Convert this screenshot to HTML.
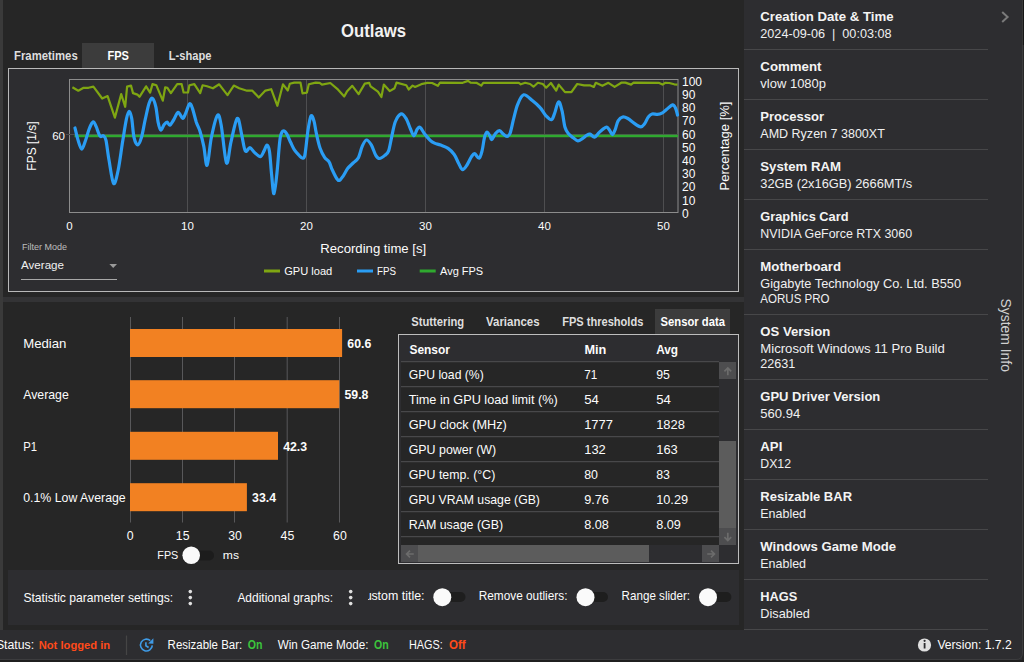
<!DOCTYPE html>
<html><head><meta charset="utf-8"><style>
html,body{margin:0;padding:0;background:#262626;width:1024px;height:662px;overflow:hidden}
svg{position:absolute;left:0;top:0;font-family:"Liberation Sans", sans-serif}
</style></head><body>
<svg width="1024" height="662" viewBox="0 0 1024 662" xml:space="preserve">
<defs><clipPath id="ctitle"><rect x="367.9" y="580" width="100" height="30"/></clipPath></defs>
<rect x="0" y="0" width="1024" height="662" fill="#262626"/>
<rect x="0" y="0" width="3" height="630" fill="#3a3a3a"/>

<text x="341" y="36.6" font-weight="bold" font-size="17.8" fill="#f2f2f2" textLength="65" lengthAdjust="spacingAndGlyphs">Outlaws</text>
<rect x="82" y="43" width="72" height="25" fill="#3c3c3c"/>
<text x="14" y="60.0" font-size="12" font-weight="bold" fill="#dedede" textLength="63.7" lengthAdjust="spacingAndGlyphs">Frametimes</text>
<text x="107.5" y="60.0" font-size="12" font-weight="bold" fill="#ffffff" textLength="21.5" lengthAdjust="spacingAndGlyphs">FPS</text>
<text x="168.75" y="60.0" font-size="12" font-weight="bold" fill="#dedede" textLength="42.65" lengthAdjust="spacingAndGlyphs">L-shape</text>
<rect x="8.5" y="68.5" width="730" height="223" fill="#2d2d30" stroke="#b9b9b9" stroke-width="1"/>
<rect x="69.5" y="79.5" width="608.5" height="133" fill="none" stroke="#8c8c8c" stroke-width="1"/>
<line x1="187.5" y1="80" x2="187.5" y2="212" stroke="#4e4e50" stroke-width="1"/>
<line x1="306.5" y1="80" x2="306.5" y2="212" stroke="#4e4e50" stroke-width="1"/>
<line x1="425.5" y1="80" x2="425.5" y2="212" stroke="#4e4e50" stroke-width="1"/>
<line x1="544.5" y1="80" x2="544.5" y2="212" stroke="#4e4e50" stroke-width="1"/>
<line x1="663.5" y1="80" x2="663.5" y2="212" stroke="#4e4e50" stroke-width="1"/>
<line x1="66" y1="134.5" x2="678" y2="134.5" stroke="#4e4e50" stroke-width="1"/>
<path d="M72.4,87.3 L78.3,90.7 L83.6,87.8 L88.5,87.8 L93.4,86.6 L102.2,98.5 L107.6,96.1 L114.9,117.6 L121.2,94.1 L125.2,106.8 L127.1,86.6 L131.0,85.6 L133.0,93.1 L137.4,94.6 L139.5,96.8 L146.1,86.3 L150.1,92.6 L152.5,84.1 L156.4,85.3 L162.8,100.7 L165.2,87.3 L167.4,87.8 L170.9,93.1 L177.2,84.1 L181.6,84.1 L183.6,92.5 L188.0,92.5 L189.4,85.3 L194.3,84.1 L200.2,93.1 L202.6,85.3 L207.0,86.3 L212.9,88.3 L219.2,84.3 L227.5,95.1 L233.8,85.6 L239.2,88.3 L247.0,90.7 L252.4,90.7 L258.8,97.5 L265.4,90.6 L271.2,89.2 L277.4,105.8 L283.0,84.3 L287.8,90.5 L289.8,83.8 L294.2,82.6 L300.5,82.6 L302.5,93.4 L306.9,92.6 L308.8,84.3 L315.7,82.6 L319.6,82.8 L322.0,84.6 L330.3,83.0 L338.1,89.7 L344.2,96.5 L346.9,91.6 L352.3,85.8 L358.6,94.1 L364.8,83.6 L369.2,82.8 L370.6,86.3 L377.9,91.6 L381.4,97.0 L383.8,84.6 L389.7,91.1 L394.6,88.2 L396.5,82.6 L406.3,85.3 L408.7,89.5 L412.6,85.6 L415.1,87.0 L422.4,83.8 L427.3,82.8 L432.1,83.0 L437.8,85.8 L440.0,82.6 L462.7,82.8 L468.1,80.9 L470.5,82.6 L476.4,82.8 L481.3,85.6 L483.2,82.8 L518.8,82.8 L520.8,84.3 L525.2,82.8 L530.1,84.0 L533.5,86.7 L537.9,82.8 L542.8,84.0 L546.2,87.7 L550.9,83.0 L556.2,90.6 L558.7,84.6 L565.0,92.1 L571.4,92.1 L577.2,84.0 L584.1,85.3 L589.9,85.3 L593.8,86.9 L595.8,82.8 L602.4,85.8 L608.4,82.8 L614.6,86.9 L621.3,82.7 L625.4,82.6 L631.1,84.6 L633.6,82.7 L658.6,82.8 L662.5,84.6 L665.4,82.8 L669.3,83.0 L674.2,84.3 L677.5,84.6" fill="none" stroke="#7fa612" stroke-width="2.2" stroke-linejoin="round"/>
<line x1="74.5" y1="136" x2="678" y2="136" stroke="#2fa92f" stroke-width="2.4"/>
<path d="M75.0,128.0 C75.5,130.1 77.0,136.8 78.1,140.3 C79.2,143.8 80.5,149.1 81.8,149.1 C83.0,149.1 84.3,143.8 85.6,140.3 C86.9,136.8 88.1,131.4 89.4,128.3 C90.7,125.2 92.1,122.2 93.2,121.9 C94.3,121.6 95.1,124.3 96.2,126.7 C97.3,129.1 98.8,134.6 100.0,136.1 C101.2,137.6 102.4,135.1 103.4,135.8 C104.4,136.5 105.1,136.3 106.0,140.3 C106.9,144.3 107.7,152.8 109.0,160.0 C110.3,167.2 112.1,181.7 113.6,183.4 C115.1,185.2 116.6,177.4 118.1,170.5 C119.6,163.6 121.2,150.4 122.6,141.8 C124.0,133.2 125.3,124.3 126.4,119.2 C127.5,114.1 128.2,111.4 129.1,111.3 C130.0,111.2 130.9,114.1 131.7,118.4 C132.5,122.7 133.0,132.9 134.0,137.3 C135.0,141.7 136.4,144.9 137.7,144.9 C138.9,144.9 140.2,141.6 141.5,137.3 C142.8,133.0 144.0,124.9 145.3,119.2 C146.6,113.5 147.9,106.8 149.1,103.3 C150.3,99.8 151.3,97.7 152.4,98.3 C153.5,98.9 155.0,103.1 155.9,107.1 C156.8,111.1 157.3,118.4 158.1,122.2 C158.9,126.0 159.8,129.7 160.8,130.1 C161.8,130.5 163.1,125.8 164.2,124.5 C165.3,123.2 166.3,122.1 167.2,122.2 C168.1,122.3 168.7,125.6 169.8,125.2 C170.9,124.8 172.2,122.1 173.6,120.0 C175.0,117.9 176.6,112.7 178.1,112.4 C179.6,112.1 181.4,118.3 182.7,118.4 C184.0,118.5 184.6,115.5 185.7,113.1 C186.8,110.7 188.4,104.5 189.5,103.8 C190.6,103.0 191.4,105.5 192.5,108.6 C193.6,111.7 195.1,118.4 196.3,122.2 C197.6,126.0 198.8,127.3 200.0,131.3 C201.2,135.3 202.6,140.7 203.8,146.4 C205.0,152.1 205.8,166.8 207.1,165.3 C208.4,163.8 209.7,145.6 211.4,137.3 C213.1,129.0 215.8,117.4 217.4,115.4 C219.0,113.4 219.7,117.3 221.2,125.2 C222.7,133.1 224.9,160.2 226.5,163.0 C228.1,165.8 229.2,149.2 231.0,141.8 C232.8,134.4 235.5,119.7 237.3,118.4 C239.1,117.2 240.3,128.9 241.6,134.3 C242.9,139.7 243.9,148.7 245.3,150.9 C246.7,153.1 248.4,147.3 249.9,147.6 C251.4,147.8 252.7,150.9 254.4,152.4 C256.1,153.9 258.8,156.9 260.4,156.6 C262.0,156.3 263.1,152.5 264.2,150.6 C265.3,148.7 266.0,144.9 266.9,145.0 C267.8,145.1 268.7,146.3 269.5,151.4 C270.3,156.5 270.9,168.4 271.7,175.5 C272.4,182.6 273.1,194.2 274.0,193.7 C274.9,193.2 276.0,181.6 277.0,172.5 C278.0,163.4 279.0,146.2 280.0,139.3 C281.0,132.4 281.9,131.9 283.0,131.0 C284.1,130.1 285.5,132.1 286.8,134.0 C288.1,135.9 289.3,139.7 290.6,142.3 C291.9,144.9 293.0,147.7 294.4,149.8 C295.8,151.9 297.5,153.7 298.9,155.1 C300.3,156.5 301.7,158.3 302.7,158.2 C303.7,158.1 304.1,159.1 305.0,154.4 C305.9,149.7 307.0,136.6 308.0,130.2 C309.0,123.8 310.0,117.4 311.0,115.9 C312.0,114.4 313.1,118.2 314.0,121.1 C314.9,124.0 315.3,128.7 316.3,133.2 C317.3,137.7 318.7,144.3 320.1,148.3 C321.5,152.3 323.1,155.1 324.6,157.4 C326.1,159.7 327.9,159.9 329.1,161.9 C330.4,163.9 330.8,166.7 332.1,169.5 C333.4,172.3 335.5,176.7 336.7,178.5 C337.9,180.3 338.4,180.8 339.5,180.4 C340.6,180.0 341.9,177.8 343.3,175.8 C344.7,173.8 346.2,170.4 347.8,168.3 C349.4,166.2 351.3,164.8 353.1,163.0 C354.9,161.2 356.9,160.5 358.4,157.7 C359.9,154.9 360.9,149.3 362.2,146.4 C363.5,143.5 364.9,140.2 366.4,140.0 C367.9,139.8 369.7,142.3 371.3,144.9 C372.9,147.5 374.4,153.1 375.8,155.4 C377.2,157.7 378.1,158.5 379.6,158.5 C381.1,158.5 383.3,156.7 384.8,155.4 C386.3,154.1 387.5,153.9 388.6,150.9 C389.7,147.9 390.5,142.2 391.6,137.3 C392.7,132.4 393.8,125.4 395.4,121.5 C397.0,117.6 399.4,114.4 401.2,113.9 C403.0,113.4 404.4,115.9 406.0,118.4 C407.6,120.9 409.2,126.1 410.5,129.0 C411.8,131.9 412.8,135.8 413.9,135.8 C415.0,135.8 416.2,130.4 417.3,129.0 C418.4,127.6 419.0,126.6 420.3,127.5 C421.6,128.4 423.2,132.2 424.9,134.3 C426.5,136.4 428.6,138.8 430.2,140.3 C431.8,141.8 432.8,142.3 434.5,143.1 C436.2,143.9 438.3,144.2 440.6,145.1 C442.9,146.0 445.8,146.8 448.1,148.4 C450.4,150.0 452.4,152.0 454.2,154.5 C456.0,157.0 457.3,161.0 458.7,163.5 C460.1,166.0 461.1,169.3 462.5,169.6 C463.9,169.8 465.5,167.2 467.0,165.0 C468.5,162.8 470.2,158.6 471.5,156.7 C472.8,154.8 473.3,153.4 474.6,153.7 C475.9,153.9 477.9,158.7 479.1,158.2 C480.4,157.7 481.2,154.1 482.1,150.7 C483.0,147.3 483.6,140.9 484.4,137.8 C485.2,134.7 486.2,132.3 487.1,132.1 C488.1,131.8 489.3,135.1 490.1,136.3 C490.9,137.5 491.0,139.9 491.9,139.4 C492.8,138.9 494.4,134.8 495.7,133.3 C497.0,131.8 498.2,130.5 499.5,130.6 C500.8,130.7 502.1,133.1 503.3,134.1 C504.6,135.1 505.9,136.4 507.0,136.3 C508.1,136.2 509.0,136.3 510.1,133.3 C511.2,130.3 512.5,123.0 513.8,118.2 C515.0,113.4 516.0,108.5 517.6,104.6 C519.2,100.7 521.2,95.4 523.7,94.8 C526.2,94.2 529.9,98.7 532.6,100.8 C535.3,102.9 537.9,105.1 540.1,107.6 C542.4,110.1 544.2,113.9 546.1,115.9 C548.0,117.9 550.0,120.1 551.4,119.7 C552.8,119.3 553.3,116.7 554.5,113.7 C555.7,110.7 557.2,102.4 558.5,101.9 C559.8,101.4 560.9,106.5 562.0,110.7 C563.1,114.9 563.9,123.4 565.0,127.3 C566.1,131.2 567.4,132.3 568.8,134.1 C570.2,135.8 571.8,136.7 573.3,137.8 C574.8,138.9 576.4,140.8 577.9,140.9 C579.4,141.0 580.9,139.6 582.4,138.6 C583.9,137.6 585.6,135.8 586.9,135.1 C588.2,134.3 588.7,133.8 590.0,134.1 C591.3,134.4 593.0,137.3 594.5,137.1 C596.0,136.8 597.6,133.9 599.0,132.6 C600.4,131.3 601.7,130.0 603.0,129.1 C604.3,128.2 605.7,126.8 606.8,127.1 C607.9,127.3 608.9,129.3 609.8,130.6 C610.7,131.9 611.5,134.8 612.4,134.7 C613.3,134.6 614.1,132.1 615.1,129.8 C616.1,127.5 616.8,122.9 618.1,120.8 C619.4,118.7 621.1,117.4 622.7,117.0 C624.3,116.6 626.0,117.5 627.9,118.5 C629.8,119.5 631.9,121.7 634.0,123.1 C636.1,124.5 639.0,126.7 640.8,126.8 C642.6,126.9 643.4,125.4 644.6,123.8 C645.9,122.2 647.0,118.6 648.3,117.0 C649.5,115.4 650.6,114.4 652.1,114.0 C653.6,113.6 655.8,114.5 657.4,114.4 C659.0,114.3 660.4,114.0 661.9,113.2 C663.4,112.4 664.7,110.9 666.5,109.5 C668.3,108.1 671.0,105.2 672.5,104.9 C674.0,104.7 674.7,106.3 675.5,108.0 C676.3,109.7 677.2,113.8 677.5,115.0" fill="none" stroke="#2a9df4" stroke-width="3.2" stroke-linejoin="round" stroke-linecap="round"/>
<text x="65" y="140" text-anchor="end" font-size="11.5" fill="#fcfcfc">60</text>
<text x="69.5" y="230" text-anchor="middle" font-size="11.5" fill="#fcfcfc">0</text>
<text x="187.5" y="230" text-anchor="middle" font-size="11.5" fill="#fcfcfc">10</text>
<text x="306.5" y="230" text-anchor="middle" font-size="11.5" fill="#fcfcfc">20</text>
<text x="425.5" y="230" text-anchor="middle" font-size="11.5" fill="#fcfcfc">30</text>
<text x="544.5" y="230" text-anchor="middle" font-size="11.5" fill="#fcfcfc">40</text>
<text x="663.5" y="230" text-anchor="middle" font-size="11.5" fill="#fcfcfc">50</text>
<text x="682" y="85.8" font-size="12" fill="#fcfcfc">100</text>
<text x="682" y="99.0" font-size="12" fill="#fcfcfc">90</text>
<text x="682" y="112.2" font-size="12" fill="#fcfcfc">80</text>
<text x="682" y="125.4" font-size="12" fill="#fcfcfc">70</text>
<text x="682" y="138.6" font-size="12" fill="#fcfcfc">60</text>
<text x="682" y="151.8" font-size="12" fill="#fcfcfc">50</text>
<text x="682" y="164.9" font-size="12" fill="#fcfcfc">40</text>
<text x="682" y="178.1" font-size="12" fill="#fcfcfc">30</text>
<text x="682" y="191.3" font-size="12" fill="#fcfcfc">20</text>
<text x="682" y="204.5" font-size="12" fill="#fcfcfc">10</text>
<text x="682" y="217.7" font-size="12" fill="#fcfcfc">0</text>
<text transform="translate(36.2,146) rotate(-90)" text-anchor="middle" font-size="12" fill="#fcfcfc">FPS [1/s]</text>
<text transform="translate(728.5,146) rotate(-90)" text-anchor="middle" font-size="13" fill="#fcfcfc">Percentage [%]</text>
<text x="320.3" y="253.2" font-size="13.15" fill="#fcfcfc">Recording time [s]</text>
<rect x="264" y="269.5" width="16" height="3" fill="#7fa612"/>
<text x="284.2" y="275" font-size="11.1" fill="#fcfcfc">GPU load</text>
<rect x="357" y="269.5" width="16" height="3" fill="#2a9df4"/>
<text x="377" y="275" font-size="11.1" fill="#fcfcfc" textLength="19" lengthAdjust="spacingAndGlyphs">FPS</text>
<rect x="419.7" y="269.5" width="16" height="3" fill="#2fa92f"/>
<text x="440" y="275" font-size="11.0" fill="#fcfcfc">Avg FPS</text>
<text x="22" y="249.8" font-size="9" fill="#bdbdbd">Filter Mode</text>
<text x="21" y="268.8" font-size="11.6" fill="#f0f0f0">Average</text>
<path d="M109.4,264 L117,264 L113.2,268 Z" fill="#9a9a9a"/>
<line x1="21" y1="279.5" x2="117" y2="279.5" stroke="#a8a8a8" stroke-width="1"/>
<rect x="3" y="297" width="741" height="5" fill="#333335"/>
<line x1="130.5" y1="317" x2="130.5" y2="522.5" stroke="#58585a" stroke-width="1"/>
<line x1="182.5" y1="317" x2="182.5" y2="522.5" stroke="#58585a" stroke-width="1"/>
<line x1="234.5" y1="317" x2="234.5" y2="522.5" stroke="#58585a" stroke-width="1"/>
<line x1="287.2" y1="317" x2="287.2" y2="522.5" stroke="#58585a" stroke-width="1"/>
<line x1="339.5" y1="317" x2="339.5" y2="522.5" stroke="#58585a" stroke-width="1"/>
<rect x="130" y="329" width="212.1" height="28" fill="#f28122"/>
<text x="23.2" y="348.1" font-size="13.1" fill="#fcfcfc" textLength="43.2" lengthAdjust="spacingAndGlyphs">Median</text>
<text x="347.3" y="348.1" font-weight="bold" font-size="12.3" fill="#fcfcfc">60.6</text>
<rect x="130" y="380.2" width="209.3" height="28" fill="#f28122"/>
<text x="23.2" y="399.3" font-size="13.1" fill="#fcfcfc" textLength="45.6" lengthAdjust="spacingAndGlyphs">Average</text>
<text x="344.5" y="399.3" font-weight="bold" font-size="12.3" fill="#fcfcfc">59.8</text>
<rect x="130" y="431.8" width="148.0" height="28" fill="#f28122"/>
<text x="23.2" y="450.9" font-size="13.1" fill="#fcfcfc" textLength="13.8" lengthAdjust="spacingAndGlyphs">P1</text>
<text x="283.2" y="450.9" font-weight="bold" font-size="12.3" fill="#fcfcfc">42.3</text>
<rect x="130" y="483.2" width="116.9" height="28" fill="#f28122"/>
<text x="23.2" y="502.3" font-size="13.1" fill="#fcfcfc" textLength="102.5" lengthAdjust="spacingAndGlyphs">0.1% Low Average</text>
<text x="252.1" y="502.3" font-weight="bold" font-size="12.3" fill="#fcfcfc">33.4</text>
<text x="130.2" y="540" text-anchor="middle" font-size="12.3" fill="#fcfcfc">0</text>
<text x="182.7" y="540" text-anchor="middle" font-size="12.3" fill="#fcfcfc">15</text>
<text x="235" y="540" text-anchor="middle" font-size="12.3" fill="#fcfcfc">30</text>
<text x="287.4" y="540" text-anchor="middle" font-size="12.3" fill="#fcfcfc">45</text>
<text x="339.9" y="540" text-anchor="middle" font-size="12.3" fill="#fcfcfc">60</text>
<text x="157.3" y="558.8" font-size="11.6" font-weight="normal" fill="#fcfcfc" textLength="21" lengthAdjust="spacingAndGlyphs">FPS</text>
<rect x="183" y="550.5" width="31" height="10" rx="5" fill="#1c1c1c"/>
<circle cx="191.2" cy="555.3" r="8.8" fill="#fafafa"/>
<text x="222.8" y="558.8" font-size="11.6" font-weight="normal" fill="#fcfcfc" textLength="16.2" lengthAdjust="spacingAndGlyphs">ms</text>
<rect x="655" y="309" width="75" height="25" fill="#3c3c3c"/>
<text x="411.3" y="326.3" font-size="12" font-weight="bold" fill="#dedede" textLength="52.9" lengthAdjust="spacingAndGlyphs">Stuttering</text>
<text x="486" y="326.3" font-size="12" font-weight="bold" fill="#dedede" textLength="53.5" lengthAdjust="spacingAndGlyphs">Variances</text>
<text x="562.2" y="326.3" font-size="12" font-weight="bold" fill="#dedede" textLength="81.1" lengthAdjust="spacingAndGlyphs">FPS thresholds</text>
<text x="660.6" y="326.3" font-size="12" font-weight="bold" fill="#ffffff" textLength="64.3" lengthAdjust="spacingAndGlyphs">Sensor data</text>
<rect x="398.5" y="334.5" width="340" height="229" fill="#2d2d30" stroke="#bdbdbd" stroke-width="1"/>
<rect x="401" y="362" width="318" height="183" fill="#262626"/>
<text x="409.4" y="354" font-weight="bold" font-size="12.2" fill="#fcfcfc" textLength="40.6" lengthAdjust="spacingAndGlyphs">Sensor</text>
<text x="584.4" y="354" font-weight="bold" font-size="12.2" fill="#fcfcfc" textLength="21.9" lengthAdjust="spacingAndGlyphs">Min</text>
<text x="656.2" y="354" font-weight="bold" font-size="12.2" fill="#fcfcfc" textLength="21.9" lengthAdjust="spacingAndGlyphs">Avg</text>
<line x1="401" y1="361.6" x2="719" y2="361.6" stroke="#48484a" stroke-width="1.2"/>
<text x="408.7" y="378.8" font-size="12.4" font-weight="normal" fill="#fcfcfc" textLength="75" lengthAdjust="spacingAndGlyphs">GPU load (%)</text>
<text x="584.2" y="378.8" font-size="12.4" font-weight="normal" fill="#fcfcfc" textLength="13" lengthAdjust="spacingAndGlyphs">71</text>
<text x="656.2" y="378.8" font-size="12.4" font-weight="normal" fill="#fcfcfc" textLength="13.75" lengthAdjust="spacingAndGlyphs">95</text>
<line x1="401" y1="386.6" x2="719" y2="386.6" stroke="#48484a" stroke-width="1.2"/>
<text x="408.7" y="403.8" font-size="12.4" font-weight="normal" fill="#fcfcfc" textLength="149" lengthAdjust="spacingAndGlyphs">Time in GPU load limit (%)</text>
<text x="584.2" y="403.8" font-size="12.4" font-weight="normal" fill="#fcfcfc" textLength="14.7" lengthAdjust="spacingAndGlyphs">54</text>
<text x="656.2" y="403.8" font-size="12.4" font-weight="normal" fill="#fcfcfc" textLength="14.7" lengthAdjust="spacingAndGlyphs">54</text>
<line x1="401" y1="411.6" x2="719" y2="411.6" stroke="#48484a" stroke-width="1.2"/>
<text x="408.7" y="428.8" font-size="12.4" font-weight="normal" fill="#fcfcfc" textLength="98.1" lengthAdjust="spacingAndGlyphs">GPU clock (MHz)</text>
<text x="584.2" y="428.8" font-size="12.4" font-weight="normal" fill="#fcfcfc" textLength="28.75" lengthAdjust="spacingAndGlyphs">1777</text>
<text x="656.2" y="428.8" font-size="12.4" font-weight="normal" fill="#fcfcfc" textLength="28.75" lengthAdjust="spacingAndGlyphs">1828</text>
<line x1="401" y1="436.6" x2="719" y2="436.6" stroke="#48484a" stroke-width="1.2"/>
<text x="408.7" y="453.8" font-size="12.4" font-weight="normal" fill="#fcfcfc" textLength="87.5" lengthAdjust="spacingAndGlyphs">GPU power (W)</text>
<text x="584.2" y="453.8" font-size="12.4" font-weight="normal" fill="#fcfcfc" textLength="21.6" lengthAdjust="spacingAndGlyphs">132</text>
<text x="656.2" y="453.8" font-size="12.4" font-weight="normal" fill="#fcfcfc" textLength="21.6" lengthAdjust="spacingAndGlyphs">163</text>
<line x1="401" y1="461.6" x2="719" y2="461.6" stroke="#48484a" stroke-width="1.2"/>
<text x="408.7" y="478.8" font-size="12.4" font-weight="normal" fill="#fcfcfc" textLength="86.6" lengthAdjust="spacingAndGlyphs">GPU temp. (°C)</text>
<text x="584.2" y="478.8" font-size="12.4" font-weight="normal" fill="#fcfcfc" textLength="13.75" lengthAdjust="spacingAndGlyphs">80</text>
<text x="656.2" y="478.8" font-size="12.4" font-weight="normal" fill="#fcfcfc" textLength="13.75" lengthAdjust="spacingAndGlyphs">83</text>
<line x1="401" y1="486.6" x2="719" y2="486.6" stroke="#48484a" stroke-width="1.2"/>
<text x="408.7" y="503.8" font-size="12.4" font-weight="normal" fill="#fcfcfc" textLength="131.25" lengthAdjust="spacingAndGlyphs">GPU VRAM usage (GB)</text>
<text x="584.2" y="503.8" font-size="12.4" font-weight="normal" fill="#fcfcfc" textLength="24.7" lengthAdjust="spacingAndGlyphs">9.76</text>
<text x="656.2" y="503.8" font-size="12.4" font-weight="normal" fill="#fcfcfc" textLength="31.9" lengthAdjust="spacingAndGlyphs">10.29</text>
<line x1="401" y1="511.6" x2="719" y2="511.6" stroke="#48484a" stroke-width="1.2"/>
<text x="408.7" y="528.8" font-size="12.4" font-weight="normal" fill="#fcfcfc" textLength="94.4" lengthAdjust="spacingAndGlyphs">RAM usage (GB)</text>
<text x="584.2" y="528.8" font-size="12.4" font-weight="normal" fill="#fcfcfc" textLength="24.7" lengthAdjust="spacingAndGlyphs">8.08</text>
<text x="656.2" y="528.8" font-size="12.4" font-weight="normal" fill="#fcfcfc" textLength="24.7" lengthAdjust="spacingAndGlyphs">8.09</text>
<line x1="401" y1="536.6" x2="719" y2="536.6" stroke="#48484a" stroke-width="1.2"/>
<rect x="719" y="362" width="17" height="183" fill="#2d2d30"/>
<rect x="719" y="362" width="17" height="17" fill="#4d4d4f"/>
<path d="M727.8,368.4 L727.8,375.2 M724.4,371.4 L727.8,368 L731.2,371.4" stroke="#6c6c6c" stroke-width="1.7" fill="none"/>
<rect x="719" y="441" width="17" height="87" fill="#5c5c5c"/>
<rect x="719" y="528" width="17" height="17" fill="#4d4d4f"/>
<path d="M727.8,532.8 L727.8,540.4 M724.4,537.2 L727.8,540.6 L731.2,537.2" stroke="#6c6c6c" stroke-width="1.7" fill="none"/>
<rect x="401" y="545" width="318" height="17" fill="#2d2d30"/>
<rect x="401" y="545" width="17" height="17" fill="#4d4d4f"/>
<path d="M406.6,554 L413.8,554 M410,550.6 L406.6,554 L410,557.4" stroke="#6c6c6c" stroke-width="1.7" fill="none"/>
<rect x="418" y="545" width="231" height="17" fill="#5c5c5c"/>
<rect x="702" y="545" width="17" height="17" fill="#4d4d4f"/>
<path d="M707.2,554 L714.4,554 M711,550.6 L714.4,554 L711,557.4" stroke="#6c6c6c" stroke-width="1.7" fill="none"/>
<rect x="8" y="570" width="731" height="55" fill="#2d2d30"/>
<text x="23.4" y="602.2" font-size="12.2" font-weight="normal" fill="#fcfcfc" textLength="149.8" lengthAdjust="spacingAndGlyphs">Statistic parameter settings:</text>
<circle cx="190.3" cy="591.6" r="1.8" fill="#e0e0e0"/>
<circle cx="190.3" cy="597.6" r="1.8" fill="#e0e0e0"/>
<circle cx="190.3" cy="603.6" r="1.8" fill="#e0e0e0"/>
<circle cx="350.7" cy="591.6" r="1.8" fill="#e0e0e0"/>
<circle cx="350.7" cy="597.6" r="1.8" fill="#e0e0e0"/>
<circle cx="350.7" cy="603.6" r="1.8" fill="#e0e0e0"/>
<text x="237.4" y="602.2" font-size="12.1" font-weight="normal" fill="#fcfcfc" textLength="95.7" lengthAdjust="spacingAndGlyphs">Additional graphs:</text>
<g clip-path="url(#ctitle)"><text x="365.1" y="600.2" font-size="12.1" fill="#fcfcfc">u</text></g>
<text x="371.4" y="600.2" font-size="12.1" font-weight="normal" fill="#fcfcfc" textLength="53.1" lengthAdjust="spacingAndGlyphs">stom title:</text>
<text x="478.7" y="600.2" font-size="12.1" font-weight="normal" fill="#fcfcfc" textLength="88.8" lengthAdjust="spacingAndGlyphs">Remove outliers:</text>
<text x="621.6" y="600.2" font-size="12.1" font-weight="normal" fill="#fcfcfc" textLength="68.5" lengthAdjust="spacingAndGlyphs">Range slider:</text>
<rect x="433.3" y="592" width="32.2" height="10" rx="5" fill="#1e1e1e"/>
<circle cx="442.3" cy="597.2" r="9" fill="#fafafa"/>
<rect x="576.5" y="592" width="31.5" height="10" rx="5" fill="#1e1e1e"/>
<circle cx="585.5" cy="597.2" r="9" fill="#fafafa"/>
<rect x="699" y="592" width="32.4" height="10" rx="5" fill="#1e1e1e"/>
<circle cx="708" cy="597.2" r="9" fill="#fafafa"/>
<rect x="0" y="630" width="744" height="30" fill="#2d2d30"/>
<text x="-4.1" y="648.7" font-size="12.3" fill="#fcfcfc">Status:</text>
<text x="38.7" y="648.6" font-size="11.8" font-weight="bold" fill="#ff4a1a" textLength="71.5" lengthAdjust="spacingAndGlyphs">Not logged in</text>
<line x1="126.5" y1="635.5" x2="126.5" y2="655" stroke="#454545" stroke-width="1.2"/>
<g fill="none" stroke="#3f9be6" stroke-width="1.6"><path d="M150.3,640.6 A5.9,5.9 0 1,0 152.3,645.4"/><path d="M145.9,642.3 L145.9,645.7 L148.6,647.5"/></g><path d="M153.4,638.2 L153.4,643.7 L148.2,643.5 Z" fill="#3f9be6"/>
<text x="167.6" y="648.6" font-size="12" font-weight="normal" fill="#fcfcfc" textLength="74.6" lengthAdjust="spacingAndGlyphs">Resizable Bar:</text>
<text x="247.8" y="648.6" font-size="12" font-weight="bold" fill="#3cc43c" textLength="14.7" lengthAdjust="spacingAndGlyphs">On</text>
<text x="277.7" y="648.6" font-size="12" font-weight="normal" fill="#fcfcfc" textLength="90.7" lengthAdjust="spacingAndGlyphs">Win Game Mode:</text>
<text x="374" y="648.6" font-size="12" font-weight="bold" fill="#3cc43c" textLength="14.7" lengthAdjust="spacingAndGlyphs">On</text>
<text x="409" y="648.6" font-size="12" font-weight="normal" fill="#fcfcfc" textLength="33.8" lengthAdjust="spacingAndGlyphs">HAGS:</text>
<text x="448.9" y="648.6" font-size="12" font-weight="bold" fill="#ff4a1a" textLength="16.7" lengthAdjust="spacingAndGlyphs">Off</text>
<rect x="744" y="0" width="278" height="662" fill="#2d2d30"/>
<text x="760.3" y="20.8" font-weight="bold" font-size="13.1" fill="#f4f4f4" textLength="133.25" lengthAdjust="spacingAndGlyphs">Creation Date &amp; Time</text>
<text x="760.3" y="37.6" font-size="12.7" fill="#f0f0f0" textLength="131.25" lengthAdjust="spacingAndGlyphs">2024-09-06  |  00:03:08</text>
<line x1="744" y1="49.5" x2="988" y2="49.5" stroke="#474749" stroke-width="1"/>
<text x="760.3" y="70.8" font-weight="bold" font-size="13.1" fill="#f4f4f4" textLength="61.25" lengthAdjust="spacingAndGlyphs">Comment</text>
<text x="760.3" y="87.6" font-size="12.7" fill="#f0f0f0" textLength="65.75" lengthAdjust="spacingAndGlyphs">vlow 1080p</text>
<line x1="744" y1="99.5" x2="988" y2="99.5" stroke="#474749" stroke-width="1"/>
<text x="760.3" y="120.8" font-weight="bold" font-size="13.1" fill="#f4f4f4" textLength="63.75" lengthAdjust="spacingAndGlyphs">Processor</text>
<text x="760.3" y="137.6" font-size="12.7" fill="#f0f0f0" textLength="124.5" lengthAdjust="spacingAndGlyphs">AMD Ryzen 7 3800XT</text>
<line x1="744" y1="149.5" x2="988" y2="149.5" stroke="#474749" stroke-width="1"/>
<text x="760.3" y="170.8" font-weight="bold" font-size="13.1" fill="#f4f4f4" textLength="80.75" lengthAdjust="spacingAndGlyphs">System RAM</text>
<text x="760.3" y="187.6" font-size="12.7" fill="#f0f0f0" textLength="152" lengthAdjust="spacingAndGlyphs">32GB (2x16GB) 2666MT/s</text>
<line x1="744" y1="199.5" x2="988" y2="199.5" stroke="#474749" stroke-width="1"/>
<text x="760.3" y="220.8" font-weight="bold" font-size="13.1" fill="#f4f4f4" textLength="88.25" lengthAdjust="spacingAndGlyphs">Graphics Card</text>
<text x="760.3" y="237.6" font-size="12.7" fill="#f0f0f0" textLength="151.75" lengthAdjust="spacingAndGlyphs">NVIDIA GeForce RTX 3060</text>
<line x1="744" y1="249.5" x2="988" y2="249.5" stroke="#474749" stroke-width="1"/>
<text x="760.3" y="270.8" font-weight="bold" font-size="13.1" fill="#f4f4f4" textLength="80.75" lengthAdjust="spacingAndGlyphs">Motherboard</text>
<text x="760.3" y="287.6" font-size="12.7" fill="#f0f0f0" textLength="200.75" lengthAdjust="spacingAndGlyphs">Gigabyte Technology Co. Ltd. B550</text>
<text x="760.3" y="302.6" font-size="12.7" fill="#f0f0f0" textLength="69.25" lengthAdjust="spacingAndGlyphs">AORUS PRO</text>
<line x1="744" y1="314.5" x2="988" y2="314.5" stroke="#474749" stroke-width="1"/>
<text x="760.3" y="335.8" font-weight="bold" font-size="13.1" fill="#f4f4f4" textLength="70" lengthAdjust="spacingAndGlyphs">OS Version</text>
<text x="760.3" y="352.6" font-size="12.7" fill="#f0f0f0" textLength="184.5" lengthAdjust="spacingAndGlyphs">Microsoft Windows 11 Pro Build</text>
<text x="760.3" y="367.6" font-size="12.7" fill="#f0f0f0" textLength="35" lengthAdjust="spacingAndGlyphs">22631</text>
<line x1="744" y1="379.5" x2="988" y2="379.5" stroke="#474749" stroke-width="1"/>
<text x="760.3" y="400.8" font-weight="bold" font-size="13.1" fill="#f4f4f4" textLength="120" lengthAdjust="spacingAndGlyphs">GPU Driver Version</text>
<text x="760.3" y="417.6" font-size="12.7" fill="#f0f0f0" textLength="40" lengthAdjust="spacingAndGlyphs">560.94</text>
<line x1="744" y1="429.5" x2="988" y2="429.5" stroke="#474749" stroke-width="1"/>
<text x="760.3" y="450.8" font-weight="bold" font-size="13.1" fill="#f4f4f4" textLength="22" lengthAdjust="spacingAndGlyphs">API</text>
<text x="760.3" y="467.6" font-size="12.7" fill="#f0f0f0" textLength="30.75" lengthAdjust="spacingAndGlyphs">DX12</text>
<line x1="744" y1="479.5" x2="988" y2="479.5" stroke="#474749" stroke-width="1"/>
<text x="760.3" y="500.8" font-weight="bold" font-size="13.1" fill="#f4f4f4" textLength="91.75" lengthAdjust="spacingAndGlyphs">Resizable BAR</text>
<text x="760.3" y="517.6" font-size="12.7" fill="#f0f0f0" textLength="45.75" lengthAdjust="spacingAndGlyphs">Enabled</text>
<line x1="744" y1="529.5" x2="988" y2="529.5" stroke="#474749" stroke-width="1"/>
<text x="760.3" y="550.8" font-weight="bold" font-size="13.1" fill="#f4f4f4" textLength="135.75" lengthAdjust="spacingAndGlyphs">Windows Game Mode</text>
<text x="760.3" y="567.6" font-size="12.7" fill="#f0f0f0" textLength="45.75" lengthAdjust="spacingAndGlyphs">Enabled</text>
<line x1="744" y1="579.5" x2="988" y2="579.5" stroke="#474749" stroke-width="1"/>
<text x="760.3" y="600.8" font-weight="bold" font-size="13.1" fill="#f4f4f4" textLength="37" lengthAdjust="spacingAndGlyphs">HAGS</text>
<text x="760.3" y="617.6" font-size="12.7" fill="#f0f0f0" textLength="49.5" lengthAdjust="spacingAndGlyphs">Disabled</text>
<line x1="744" y1="629.5" x2="988" y2="629.5" stroke="#474749" stroke-width="1"/>
<path d="M1002.2,12 L1007.6,17 L1002.2,22" fill="none" stroke="#7a7a7a" stroke-width="2"/>
<text transform="translate(1001,335.2) rotate(90)" text-anchor="middle" font-size="13.9" fill="#d0d0d0">System Info</text>
<path d="M1022.5,44 L1022.5,653 Q1022.5,659.5 1016,659.5 L0,659.5" fill="none" stroke="#3c3c3e" stroke-width="1"/>
<rect x="1023" y="0" width="1" height="45" fill="#151515"/>
<rect x="1022" y="0" width="1" height="45" fill="#383838"/>
<rect x="0" y="660" width="1024" height="2" fill="#1f1f1f"/>
<circle cx="924.5" cy="645" r="6.6" fill="#e0e0e0"/><rect x="923.7" y="643" width="1.8" height="5.5" fill="#2d2d30"/><circle cx="924.6" cy="640.8" r="1.1" fill="#2d2d30"/>
<text x="937.4" y="649.0" font-size="12.4" font-weight="normal" fill="#fcfcfc" textLength="74.3" lengthAdjust="spacingAndGlyphs">Version: 1.7.2</text>
</svg>
</body></html>
